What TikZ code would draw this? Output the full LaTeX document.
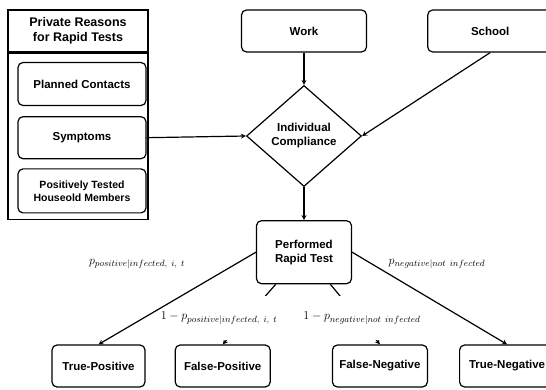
\documentclass[tikz,border=0pt]{standalone}
\usepackage{amsmath, amssymb}
\usepackage{fontspec}
\setsansfont{Liberation Sans}
\usepackage{tikz}
\usetikzlibrary{shapes, arrows, positioning, fit}

\begin{document}
\begin{tikzpicture}[
            x=1pt, y=-1pt,
            frame/.style={rectangle, draw, line width=1.2pt, minimum width=140pt, align=center},
            box/.style={rectangle, draw, rounded corners=5pt, line width=1.2pt, minimum width=95pt, minimum height=42pt, align=center, font=\sffamily\bfseries\fontsize{11.5}{14}\selectfont},
            decision/.style={diamond, draw, line width=1.2pt, inner sep=0pt, minimum width=115pt, minimum height=101pt, align=center, font=\sffamily\bfseries\fontsize{11.5}{14}\selectfont},
            prob/.style={fill=white, inner sep=1pt, font=\fontsize{12.5}{14}\selectfont},
            arrow/.style={line width=1.2pt, ->, >=stealth}
        ]
            \clip (0,0) rectangle (546,390);

            \node[frame, minimum height=42pt, font=\sffamily\bfseries\fontsize{12.5}{14.5}\selectfont] (reasons) at (78,31) {Private Reasons\\for Rapid Tests};
            \node[frame, minimum height=166pt, below=0pt of reasons] (reasonsbody) {};
            \node[box, minimum width=128pt, minimum height=43pt] (planned) at (82,84) {Planned Contacts};
            \node[box, minimum width=128pt, below=10pt of planned] (symptoms) {Symptoms};
            \node[box, minimum width=128pt, minimum height=44pt, below=9pt of symptoms, font=\sffamily\bfseries\fontsize{10.5}{13}\selectfont] (household) {Positively Tested\\Houseold Members};

            \node[box, minimum width=125pt] (work) at (304,31) {Work};
            \node[box, minimum width=125pt, right=60pt of work] (school) {School};
            \node[decision] (compliance) at (304,136) {Individual\\Compliance};
            \node[box, minimum height=63pt, below=33pt of compliance] (test) {Performed\\Rapid Test};

            \node[box, minimum width=93pt] (truepos) at (98.5,366) {True-Positive};
            \node[box, right=29pt of truepos] (falsepos) {False-Positive};
            \node[box, right=61pt of falsepos] (falseneg) {False-Negative};
            \node[box, right=31pt of falseneg] (trueneg) {True-Negative};

            \draw[arrow] (work) -- (compliance);
            \draw[arrow] (school.south) -- (compliance.east);
            \draw[arrow] (symptoms.east) -- (compliance.west);
            \draw[arrow] (compliance) -- (test);
            \draw[arrow] (test) -- (falsepos.north);
            \draw[arrow] (test) -- (falseneg.north);

            \node[prob] (ppos) at (137,264) {$p_{positive|infected,\ i,\ t}$};
            \node[prob] (pneg) at (437,264) {$p_{negative|not\ infected}$};
            \node[prob, minimum height=44pt] (qpos) at (219,318) {$1-p_{positive|infected,\ i,\ t}$};
            \node[prob, minimum height=44pt] (qneg) at (362,318) {$1-p_{negative|not\ infected}$};

            \draw[arrow] (test.west) -- (truepos.north);
            \draw[arrow] (test.east) -- (trueneg.north);
        \end{tikzpicture}
\end{document}
